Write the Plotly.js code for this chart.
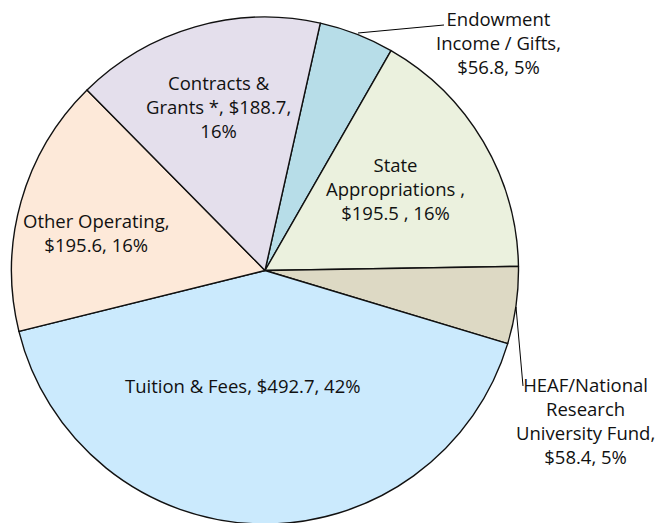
<!DOCTYPE html>
<html>
<head>
<meta charset="utf-8">
<script src="https://cdn.plot.ly/plotly-3.0.1.min.js"></script>
<style>
html,body{margin:0;padding:0;background:#fff;overflow:hidden;width:656px;height:523px;}
#chart{width:656px;height:545px;}
</style>
</head>
<body>
<div id="chart"></div>
<script>
// Data (in $ millions), in clockwise order starting near 12 o'clock
const categories = ["Endowment Income / Gifts", "State Appropriations ", "HEAF/National Research University Fund", "Tuition & Fees", "Other Operating", "Contracts & Grants *"];
const values = [56.8, 195.5, 58.4, 492.7, 195.6, 188.7];
const percents = [5, 16, 5, 42, 16, 16];
// Label line breaks as shown in the chart
const labelLines = [
  ["Endowment", "Income / Gifts,", "$56.8, 5%"],
  ["State", "Appropriations ,", "$195.5 , 16%"],
  ["HEAF/National", "Research", "University Fund,", "$58.4, 5%"],
  ["Tuition & Fees, $492.7, 42%"],
  ["Other Operating,", "$195.6, 16%"],
  ["Contracts &", "Grants *, $188.7,", "16%"]
];

// Styling (kept separate from data)
const colors = ["#b7dde8", "#ebf1de", "#ddd9c4", "#cbeafd", "#fde9d9", "#e4dfec"];
const W = 656, H = 545;
// label centre positions in pixels (layout only)
const labelPos = [[498, 43], [395, 189], [585, 420], [243, 385], [96, 232], [218, 107]];
const px = (x) => x / W;
const py = (y) => (H - y) / H;

const cx = 265, cy = 270.5, r = 253.5;

const annotations = labelLines.map((lines, i) => ({
  xref: 'paper', yref: 'paper',
  x: px(labelPos[i][0]), y: py(labelPos[i][1]),
  xanchor: 'center', yanchor: 'middle',
  text: lines.join('<br>'),
  showarrow: false,
  align: 'center',
  font: {family: '"Open Sans", Lato, sans-serif', size: 18.5, color: '#111'}
}));

const shapes = [
  {type: 'line', xref: 'paper', yref: 'paper', x0: px(358), y0: py(33), x1: px(444), y1: py(25), line: {color: '#000', width: 1}},
  {type: 'line', xref: 'paper', yref: 'paper', x0: px(516), y0: py(307), x1: px(523), y1: py(386), line: {color: '#000', width: 1}}
];

const trace = {
  type: 'pie',
  labels: categories,
  values: values,
  sort: false,
  direction: 'clockwise',
  rotation: 12.6,
  textinfo: 'none',
  hoverinfo: 'label+value+percent',
  marker: {colors: colors, line: {color: '#111', width: 1.4}},
  domain: {x: [px(cx - r), px(cx + r)], y: [py(cy + r), py(cy - r)]},
  showlegend: false
};

Plotly.newPlot('chart', [trace], {
  width: W, height: H,
  margin: {l: 0, r: 0, t: 0, b: 0},
  paper_bgcolor: '#fff',
  showlegend: false,
  annotations: annotations,
  shapes: shapes
}, {displayModeBar: false, staticPlot: true});
</script>
</body>
</html>
